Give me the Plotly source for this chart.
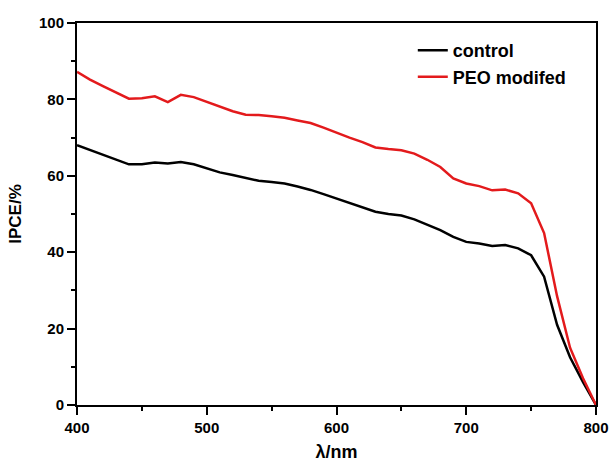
import plotly.graph_objects as go

wavelength = list(range(400, 801, 10))

control = [68.0, 66.8, 65.5, 64.2, 63.0, 63.0, 63.5, 63.2, 63.6, 63.0,
           62.0, 60.9, 60.2, 59.5, 58.7, 58.4, 58.0, 57.2, 56.3, 55.2,
           54.0, 52.8, 51.7, 50.6, 50.0, 49.6, 48.6, 47.3, 45.8, 44.0,
           42.7, 42.3, 41.6, 41.9, 41.0, 39.2, 33.6, 21.0, 12.5, 6.0, 0.0]

peo_modified = [87.2, 85.2, 83.5, 81.8, 80.2, 80.3, 80.8, 79.3, 81.2, 80.6,
                79.3, 78.0, 76.9, 76.0, 75.9, 75.6, 75.2, 74.5, 73.8, 72.6,
                71.2, 70.0, 68.8, 67.4, 67.0, 66.7, 65.8, 64.2, 62.3, 59.3,
                58.0, 57.3, 56.2, 56.4, 55.4, 52.8, 45.0, 28.5, 15.0, 7.0, 0.0]

series_names = ["control", "PEO modifed"]
x_ticks = [400, 500, 600, 700, 800]
y_ticks = [0, 20, 40, 60, 80, 100]

FONT = "Liberation Sans, Arial, sans-serif"

fig = go.Figure()
fig.add_trace(go.Scatter(x=wavelength, y=control, mode="lines", name=series_names[0],
                         line=dict(color="#000000", width=2.5)))
fig.add_trace(go.Scatter(x=wavelength, y=peo_modified, mode="lines", name=series_names[1],
                         line=dict(color="#e31a1c", width=2.5)))

axis_common = dict(
    showline=True, linecolor="black", linewidth=2, mirror=True,
    ticks="outside", ticklen=8, tickwidth=2, tickcolor="black",
    showgrid=False, zeroline=False, automargin=False,
    tickfont=dict(family=FONT, size=15, color="black", weight="bold"),
)

fig.update_xaxes(
    range=[400, 800], tickvals=x_ticks,
    title=dict(text="λ/nm", font=dict(family=FONT, size=18, color="black", weight="bold"), standoff=13),
    minor=dict(dtick=50, tick0=400, ticks="outside", ticklen=4, tickwidth=2, tickcolor="black"),
    **axis_common,
)
fig.update_yaxes(
    range=[0, 100], tickvals=y_ticks,
    title=dict(text="IPCE/%", font=dict(family=FONT, size=17, color="black", weight="bold"), standoff=13),
    minor=dict(dtick=10, tick0=0, ticks="outside", ticklen=4, tickwidth=2, tickcolor="black"),
    **axis_common,
)

fig.update_layout(
    width=611, height=462,
    margin=dict(l=77, r=15, t=23, b=57),
    paper_bgcolor="white", plot_bgcolor="white",
    showlegend=True,
    legend=dict(x=0.647, y=0.976, xanchor="left", yanchor="top",
                bgcolor="rgba(0,0,0,0)", borderwidth=0,
                font=dict(family=FONT, size=18, color="black", weight="bold"),
                tracegroupgap=0, itemwidth=30),
)

fig.write_html(
    "out.html",
    config={"displayModeBar": False},
    post_script="document.body.style.margin='0';document.body.style.overflow='hidden';",
)
